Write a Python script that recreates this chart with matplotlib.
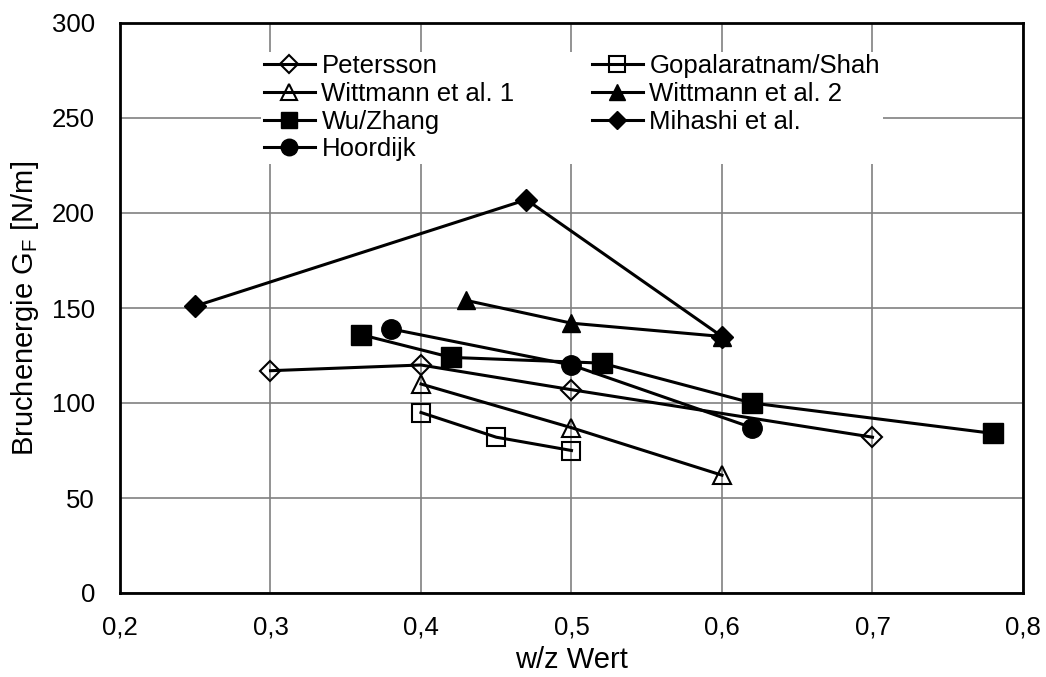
import matplotlib
matplotlib.use("Agg")
import matplotlib.pyplot as plt
from matplotlib.ticker import FuncFormatter

plt.rcParams['font.family'] = ['Liberation Sans', 'DejaVu Sans']
plt.rcParams['mathtext.fontset'] = 'custom'
plt.rcParams['mathtext.rm'] = 'Liberation Sans'

# Daten (w/z Wert, Bruchenergie G_F in N/m)
petersson_x = [0.30, 0.40, 0.50, 0.70]
petersson_y = [117, 120, 107, 82]
gopal_x = [0.40, 0.45, 0.50]
gopal_y = [95, 82, 75]
witt1_x = [0.40, 0.50, 0.60]
witt1_y = [110, 87, 62]
witt2_x = [0.43, 0.50, 0.60]
witt2_y = [154, 142, 135]
wu_x = [0.36, 0.42, 0.52, 0.62, 0.78]
wu_y = [136, 124, 121, 100, 84]
mihashi_x = [0.25, 0.47, 0.60]
mihashi_y = [151, 207, 135]
hoordijk_x = [0.38, 0.50, 0.62]
hoordijk_y = [139, 120, 87]

fig = plt.figure(figsize=(10.46, 6.77), dpi=100)
ax = fig.add_axes([120/1046, 1-593/677, 903/1046, 570/677])

lw = 2.2
p1, = ax.plot(petersson_x, petersson_y, color='k', lw=lw, marker='D', ms=10.5,
              mfc='none', mec='k', mew=1.5, label='Petersson', zorder=3)
p2, = ax.plot(gopal_x, gopal_y, color='k', lw=lw, marker='s', ms=13,
              mfc='none', mec='k', mew=1.5, label='Gopalaratnam/Shah', zorder=3)
p3, = ax.plot(witt1_x, witt1_y, color='k', lw=lw, marker='^', ms=13,
              mfc='none', mec='k', mew=1.5, label='Wittmann et al. 1', zorder=3)
p4, = ax.plot(witt2_x, witt2_y, color='k', lw=lw, marker='^', ms=13,
              mfc='k', mec='k', label='Wittmann et al. 2', zorder=3)
p5, = ax.plot(wu_x, wu_y, color='k', lw=lw, marker='s', ms=14,
              mfc='k', mec='k', label='Wu/Zhang', zorder=3)
p6, = ax.plot(mihashi_x, mihashi_y, color='k', lw=lw, marker='D', ms=11,
              mfc='k', mec='k', label='Mihashi et al.', zorder=3)
p7, = ax.plot(hoordijk_x, hoordijk_y, color='k', lw=lw, marker='o', ms=14,
              mfc='k', mec='k', label='Hoordijk', zorder=3)

ax.set_xlim(0.2, 0.8)
ax.set_ylim(0, 300)
ax.set_xticks([0.2, 0.3, 0.4, 0.5, 0.6, 0.7, 0.8])
ax.set_yticks([0, 50, 100, 150, 200, 250, 300])
ax.xaxis.set_major_formatter(FuncFormatter(lambda v, p: ('%.1f' % v).replace('.', ',')))
ax.tick_params(length=0, labelsize=18.5)
ax.tick_params(axis='x', pad=16)
ax.tick_params(axis='y', pad=18)
ax.grid(True, color='#808080', lw=1.2)
ax.set_axisbelow(True)
for s in ax.spines.values():
    s.set_linewidth(2)

ax.set_xlabel('w/z Wert', fontsize=21, labelpad=5)
ax.set_ylabel(r'Bruchenergie G$_\mathregular{F}$ [N/m]', fontsize=21, labelpad=8)

# Reihenfolge wie im Original (zeilenweise)
handles = [p1, p3, p5, p7, p2, p4, p6]
leg = ax.legend(handles=handles, ncol=2, loc='upper left',
                bbox_to_anchor=(0.142, 0.972), fontsize=18.5, frameon=True,
                fancybox=False, edgecolor='none', facecolor='white', framealpha=1,
                borderpad=0.1, labelspacing=0.14, handlelength=2.0,
                handletextpad=0.25, columnspacing=3.0, markerscale=0.85)

fig.savefig('out.png', dpi=100)
